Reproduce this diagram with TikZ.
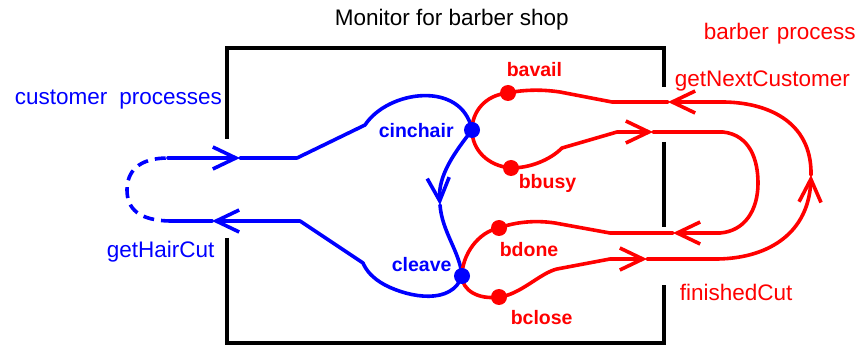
\documentclass[tikz,border=0pt]{standalone}
\usepackage{fontspec}
\setmainfont{Liberation Sans}
\usetikzlibrary{arrows.meta}
\begin{document}
\begin{tikzpicture}[x=1pt,y=-1pt,
  line width=3.6pt, line join=round, line cap=round,
  lbl/.style={inner sep=0pt, anchor=base west, font=\fontsize{22.5}{27}\selectfont},
  blbl/.style={inner sep=0pt, anchor=base west, font=\fontsize{19.5}{23}\selectfont\bfseries},
  dot/.style={circle, fill, inner sep=0pt, minimum size=16pt},
  barb/.style={-{Straight Barb[length=23pt,width=22pt]}},
  frame/.style={line width=3.3pt, black, line cap=butt, line join=miter},
  dashedwire/.style={dash pattern=on 11pt off 7pt, line cap=butt}]

\useasboundingbox (0,0) rectangle (859,347);

% frame of the monitor
\draw[frame] (227,139) -- (227,48) -- (664,48) -- (664,87);
\draw[frame] (664,142) -- (664,227);
\draw[frame] (227,238) -- (227,343) -- (664,343) -- (664,285);

% named points
\coordinate (cinC) at (472,130);
\coordinate (clvC) at (462,276);
\coordinate (bavC) at (508,93);
\coordinate (bbuC) at (511,168);
\coordinate (bdoC) at (499,228);
\coordinate (bclC) at (499,297);

\coordinate (cu0) at (168,158);
\coordinate (cuA) at (240,158);
\coordinate (cu1) at (297,158);
\coordinate (cu2) at (365,125);
\coordinate (cdA) at (440,205);
\coordinate (cl1) at (363,263);
\coordinate (cl2) at (300,221);
\coordinate (clA) at (212,221);
\coordinate (cl3) at (172,221);

\coordinate (ob1) at (557,269);
\coordinate (ob2) at (610,259);
\coordinate (obA) at (647,259);
\coordinate (ob3) at (718,259);
\coordinate (orA) at (811,175);
\coordinate (ot1) at (722,102);
\coordinate (otA) at (668,102);
\coordinate (ot2) at (612,102);
\coordinate (ot3) at (560,92);

\coordinate (ib1) at (562,148);
\coordinate (ib2) at (617,132);
\coordinate (ibA) at (653,132);
\coordinate (ib3) at (723,132);
\coordinate (ir) at (758,183);
\coordinate (id1) at (720,233);
\coordinate (idA) at (673,233);
\coordinate (id2) at (610,233);
\coordinate (id3) at (555,223);

% customer process (blue)
\draw[blue, dashedwire] (cl3) .. controls (138,221) and (127,208) .. (127,190)
   .. controls (127,172) and (138,158) .. (cu0);
\draw[blue, barb] (cu0) -- (cuA);
\draw[blue] (cuA) -- (cu1) -- (cu2) .. controls (388,90) and (462,80) .. (cinC);
\draw[blue, barb] (cinC) .. controls (455,152) and (438,175) .. (cdA);
\draw[blue] (cdA) .. controls (442,232) and (460,252) .. (clvC);
\draw[blue, barb] (clvC) .. controls (452,305) and (410,298) .. (385,285)
   .. controls (372,278) and (366,270) .. (cl1) -- (cl2) -- (clA);
\draw[blue] (clA) -- (cl3);

% barber process (red)
\draw[red] (bavC) .. controls (485,95) and (472,112) .. (cinC)
   .. controls (472,150) and (488,166) .. (bbuC);
\draw[red] (bdoC) .. controls (478,232) and (462,255) .. (clvC)
   .. controls (462,290) and (478,300) .. (bclC);

\draw[red, barb] (bclC) .. controls (520,295) and (540,273) .. (ob1) -- (ob2) -- (obA);
\draw[red, barb] (obA) -- (ob3) .. controls (770,258) and (809,232) .. (orA);
\draw[red, barb] (orA) .. controls (812,120) and (765,102) .. (ot1) -- (otA);
\draw[red] (otA) -- (ot2) -- (ot3) .. controls (540,89) and (522,90) .. (bavC);

\draw[red, barb] (bbuC) .. controls (530,168) and (550,160) .. (ib1) -- (ib2) -- (ibA);
\draw[red, barb] (ibA) -- (ib3) .. controls (750,135) and (758,160) .. (ir)
   .. controls (758,210) and (745,231) .. (id1) -- (idA);
\draw[red] (idA) -- (id2) -- (id3) .. controls (535,220) and (515,222) .. (bdoC);

% dots
\node[dot, red] (bavail) at (bavC) {};
\node[dot, red] (bbusy) at (bbuC) {};
\node[dot, red] (bdone) at (bdoC) {};
\node[dot, red] (bclose) at (bclC) {};
\node[dot, blue] (cinchair) at (cinC) {};
\node[dot, blue] (cleave) at (clvC) {};

% texts
\node[lbl] (title) at (333,26) {Monitor for barber shop};
\node[lbl, blue] (custlbl) at (13,105) {customer\hspace{12pt}processes};
\node[lbl, blue] (ghclbl) at (105,258) {getHairCut};
\node[lbl, red] (barblbl) at (702,40) {barber\hspace{8pt}process};
\node[lbl, red] (gnclbl) at (673,87) {getNextCustomer};
\node[lbl, red] (fclbl) at (678,301) {finishedCut};
\node[blbl, blue] (cinlbl) at (377,138) {cinchair};
\node[blbl, blue] (clvlbl) at (390,272) {cleave};
\node[blbl, red] (bavlbl) at (505,77) {bavail};
\node[blbl, red] (bbulbl) at (517,189) {bbusy};
\node[blbl, red] (bdolbl) at (498,257) {bdone};
\node[blbl, red] (bcllbl) at (509,324) {bclose};
\end{tikzpicture}
\end{document}
